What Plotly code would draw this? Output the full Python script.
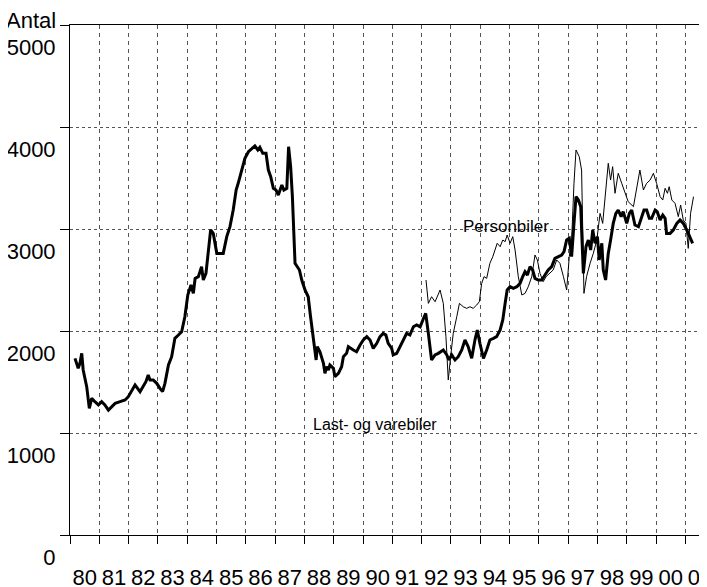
import plotly.graph_objects as go

# Last- og varebiler (thick line): decimal year, antal
last_x = [1980.17, 1980.28, 1980.34, 1980.40, 1980.45, 1980.57, 1980.66, 1980.74, 1980.85, 1980.97,
          1981.08, 1981.19, 1981.31, 1981.42, 1981.54, 1981.71, 1981.88, 1981.99,
          1982.11, 1982.22, 1982.39, 1982.50, 1982.59, 1982.67, 1982.73, 1982.84, 1982.96,
          1983.07, 1983.16, 1983.24, 1983.36, 1983.47, 1983.58, 1983.70, 1983.81, 1983.92,
          1984.02, 1984.13, 1984.21, 1984.27, 1984.38, 1984.49, 1984.55, 1984.64, 1984.72, 1984.80, 1984.89,
          1985.01, 1985.12, 1985.23, 1985.35, 1985.46, 1985.57, 1985.67, 1985.74, 1985.86, 1985.97,
          1986.09, 1986.20, 1986.31, 1986.41, 1986.48, 1986.58, 1986.69, 1986.77, 1986.85, 1986.94,
          1987.03, 1987.11, 1987.17, 1987.23, 1987.30, 1987.40, 1987.46, 1987.53, 1987.59, 1987.68, 1987.83, 1987.91,
          1988.02, 1988.13, 1988.21, 1988.30, 1988.40, 1988.44, 1988.53, 1988.65, 1988.70, 1988.76, 1988.82, 1988.87, 1988.93, 1988.99,
          1989.04, 1989.16, 1989.27, 1989.33, 1989.44, 1989.50, 1989.67, 1989.78, 1989.90,
          1990.01, 1990.13, 1990.24, 1990.35, 1990.47, 1990.58, 1990.69, 1990.78, 1990.86, 1990.98,
          1991.03, 1991.15, 1991.26, 1991.38, 1991.49, 1991.60, 1991.72, 1991.83, 1991.95,
          1992.06, 1992.14, 1992.23, 1992.34, 1992.46, 1992.57, 1992.74, 1992.86, 1992.93,
          1993.03, 1993.14, 1993.25, 1993.37, 1993.48, 1993.59, 1993.71, 1993.82, 1993.90, 1993.99,
          1994.11, 1994.22, 1994.33, 1994.45, 1994.56, 1994.68, 1994.77, 1994.85, 1994.92,
          1995.02, 1995.13, 1995.25, 1995.36, 1995.45, 1995.53, 1995.61, 1995.70, 1995.79, 1995.87, 1995.98,
          1996.10, 1996.21, 1996.32, 1996.44, 1996.55, 1996.67, 1996.78, 1996.86, 1996.95,
          1997.04, 1997.12, 1997.20, 1997.27, 1997.35, 1997.43, 1997.52, 1997.61, 1997.69, 1997.77, 1997.84, 1997.92,
          1998.00, 1998.06, 1998.15, 1998.20, 1998.28, 1998.37, 1998.45, 1998.54, 1998.63, 1998.71, 1998.81, 1998.88,
          1999.00, 1999.09, 1999.17, 1999.28, 1999.40, 1999.51, 1999.59, 1999.68, 1999.77, 1999.85, 1999.97,
          2000.04, 2000.14, 2000.23, 2000.31, 2000.36, 2000.48, 2000.59, 2000.71, 2000.82, 2000.93,
          2001.05, 2001.14, 2001.25]
last_y = [1732, 1634, 1683, 1781, 1618, 1454, 1242, 1340, 1307, 1275,
          1307, 1275, 1225, 1258, 1291, 1307, 1324, 1356,
          1422, 1471, 1405, 1454, 1503, 1569, 1520, 1520, 1487,
          1438, 1405, 1487, 1667, 1748, 1928, 1961, 1993, 2140,
          2353, 2451, 2369, 2516, 2533, 2631, 2500, 2565, 2761, 2990, 2957,
          2761, 2761, 2761, 2925, 3023, 3186, 3382, 3448, 3578, 3693,
          3758, 3791, 3814, 3775, 3801, 3742, 3742, 3578, 3513, 3399,
          3382, 3333, 3382, 3431, 3382, 3399, 3807, 3611, 3317, 2664, 2598, 2500,
          2402, 2336, 2140, 1944, 1716, 1846, 1797, 1683, 1585, 1650, 1618, 1667, 1650, 1634,
          1552, 1585, 1650, 1748, 1781, 1846, 1814, 1797, 1863,
          1912, 1944, 1912, 1830, 1879, 1944, 1977, 1961, 1879, 1830,
          1765, 1781, 1846, 1912, 1977, 1961, 2042, 2059, 2040,
          2120, 2173, 1977, 1716, 1765, 1781, 1814, 1765, 1716,
          1765, 1716, 1748, 1814, 1912, 1846, 1732, 1912, 2010, 1879,
          1732, 1814, 1912, 1928, 1944, 2010, 2108, 2271, 2402,
          2434, 2418, 2434, 2467, 2533, 2581, 2549, 2631, 2598, 2516, 2500,
          2500, 2549, 2598, 2631, 2712, 2729, 2745, 2778, 2892,
          2908, 2729, 3055, 3317, 3284, 3219, 2565, 2827, 2892, 2794, 2990, 2860,
          2925, 2696, 2860, 2598, 2500, 2761, 2892, 3055, 3153, 3186, 3121, 3170,
          3055, 3153, 3186, 3039, 3023, 3121, 3186, 3186, 3105, 3105, 3186,
          3170, 3088, 3137, 3105, 2957, 2957, 2990, 3055, 3088, 3055,
          2990, 2925, 2860]

# Personbiler (thin line)
person_x = [1992.15, 1992.23, 1992.34, 1992.46, 1992.63, 1992.74, 1992.83, 1992.91, 1992.99,
            1993.08, 1993.20, 1993.29, 1993.42, 1993.54, 1993.65, 1993.76, 1993.88, 1993.97,
            1994.05, 1994.13, 1994.22, 1994.33, 1994.43, 1994.51, 1994.58, 1994.68, 1994.77, 1994.85, 1994.92,
            1995.02, 1995.11, 1995.19, 1995.30, 1995.42, 1995.53, 1995.64, 1995.76, 1995.87, 1995.95,
            1996.04, 1996.15, 1996.25, 1996.38, 1996.49, 1996.61, 1996.72, 1996.84, 1996.95,
            1997.04, 1997.12, 1997.20, 1997.27, 1997.38, 1997.46, 1997.54, 1997.63, 1997.75, 1997.86, 1997.98,
            1998.09, 1998.18, 1998.27, 1998.37, 1998.45, 1998.52, 1998.60, 1998.71, 1998.83, 1998.94,
            1999.05, 1999.23, 1999.34, 1999.45, 1999.57, 1999.68, 1999.80, 1999.91,
            2000.02, 2000.14, 2000.23, 2000.31, 2000.39, 2000.45, 2000.54, 2000.65, 2000.76, 2000.84, 2000.93,
            2001.02, 2001.10, 2001.18, 2001.28]
person_y = [2500, 2271, 2336, 2287, 2402, 2271, 1944, 1520, 1748,
            1977, 2140, 2271, 2238, 2222, 2238, 2222, 2255, 2287,
            2467, 2533, 2516, 2664, 2729, 2794, 2860, 2827, 2892, 2876, 2941,
            2860, 2925, 2794, 2533, 2353, 2369, 2434, 2533, 2745, 2696,
            2565, 2484, 2533, 2565, 2598, 2696, 2664, 2533, 2402,
            2729, 2892, 3448, 3775, 3709, 3578, 2369, 2533, 2664, 2761, 2892,
            3153, 3055, 3317, 3644, 3480, 3611, 3350, 3546, 3448, 3350,
            3268, 3219, 3415, 3578, 3382, 3448, 3480, 3546,
            3448, 3317, 3284, 3399, 3350, 3415, 3284, 3252, 3121, 3235, 3088,
            3055, 2810, 3153, 3317]

years = list(range(1980, 2002))
year_labels = ["80", "81", "82", "83", "84", "85", "86", "87", "88", "89", "90",
               "91", "92", "93", "94", "95", "96", "97", "98", "99", "00", "01"]
y_ticks = [0, 1000, 2000, 3000, 4000, 5000]

FONT = "Liberation Sans, Arial, sans-serif"

fig = go.Figure()
fig.add_trace(go.Scatter(x=last_x, y=last_y, mode="lines",
                         line=dict(color="black", width=3), name="Last- og varebiler"))
fig.add_trace(go.Scatter(x=person_x, y=person_y, mode="lines",
                         line=dict(color="black", width=1), name="Personbiler"))

# the page body adds an 8 px margin at top/left, so the figure is 8 px smaller
fig.update_layout(
    width=699, height=579,
    margin=dict(l=62, r=0, t=17, b=52, autoexpand=False),
    paper_bgcolor="white", plot_bgcolor="white",
    showlegend=False,
    font=dict(family=FONT, color="black"),
    annotations=[
        dict(text="Antal", xref="paper", yref="paper", x=0, y=1, xanchor="right", yanchor="middle",
             xshift=-12, yshift=5, showarrow=False, font=dict(family=FONT, size=22, color="black")),
        dict(text="Personbiler", x=1994.88, y=3029, xref="x", yref="y", showarrow=False,
             font=dict(family=FONT, size=17, color="black")),
        dict(text="Last- og varebiler", x=1990.41, y=1088, xref="x", yref="y", showarrow=False,
             font=dict(family=FONT, size=16, color="black")),
    ],
)

fig.update_xaxes(
    range=[1980, 2001.74], automargin=False,
    tickmode="array", tickvals=[y + 0.5 for y in years], ticktext=year_labels,
    ticks="", showgrid=False, zeroline=False, tickangle=0,
    tickfont=dict(family=FONT, size=22, color="black"),
    ticklabelstandoff=23, ticklabeloverflow="allow",
    showline=True, linecolor="black", linewidth=1, mirror=True,
    minor=dict(tick0=1980, dtick=1, ticks="outside", ticklen=8, tickcolor="black",
               showgrid=True, gridcolor="#555555", gridwidth=1, griddash="4px,4px"),
)
fig.update_yaxes(
    range=[0, 5000], automargin=False,
    tickmode="array", tickvals=y_ticks, ticktext=[str(v) for v in y_ticks],
    ticks="outside", ticklen=9, tickcolor="black",
    tickfont=dict(family=FONT, size=22, color="black"),
    ticklabelshift=22,
    showgrid=True, gridcolor="#555555", gridwidth=1, griddash="3px,3px",
    zeroline=False,
    showline=True, linecolor="black", linewidth=1,
)

fig.write_html("out.html")
